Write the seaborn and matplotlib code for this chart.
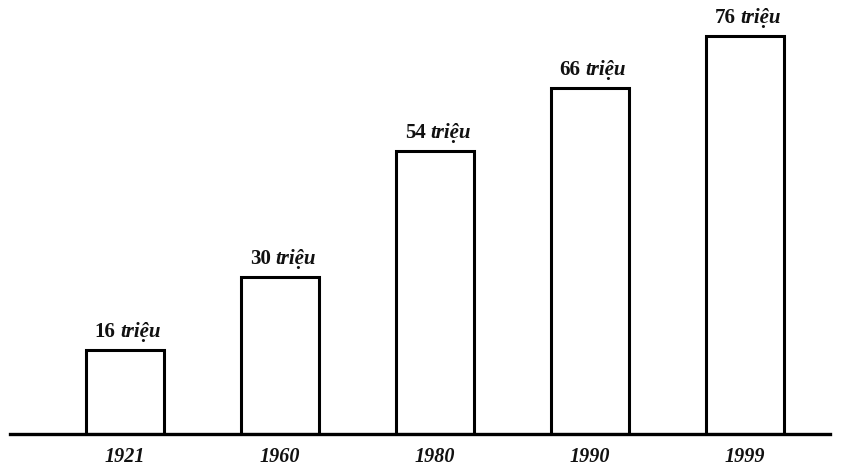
import matplotlib
matplotlib.use("Agg")
import matplotlib.pyplot as plt
import seaborn as sns
import pandas as pd

years = ["1921", "1960", "1980", "1990", "1999"]
population = [16, 30, 54, 66, 76]
unit = "triệu"

sns.set_theme(style="white")
plt.rcParams["font.family"] = ["Liberation Serif", "DejaVu Serif"]

df = pd.DataFrame({"year": years, "pop": population})

fig = plt.figure(figsize=(8.56, 4.70), dpi=100)
ax = fig.add_axes([10 / 856, 36 / 470, 820 / 856, 434 / 470])

sns.barplot(data=df, x="year", y="pop", ax=ax, color="white",
            edgecolor="black", linewidth=2.2, width=0.5, saturation=1)

ax.set_xlim(-0.742, 4.548)
ax.set_ylim(0, 76 * 434 / 398)
for s in ["top", "right", "left"]:
    ax.spines[s].set_visible(False)
ax.spines["bottom"].set_linewidth(2.4)
ax.spines["bottom"].set_color("black")
ax.set_yticks([])
ax.set_xlabel("")
ax.set_ylabel("")
ax.tick_params(axis="x", length=0, pad=9)
for lbl in ax.get_xticklabels():
    lbl.set_fontstyle("italic")
    lbl.set_fontweight("bold")
    lbl.set_fontsize(14.5)
    lbl.set_color("#111111")

fig.canvas.draw()
renderer = fig.canvas.get_renderer()
for i, v in enumerate(population):
    t1 = ax.annotate(f"{v}", xy=(i, v), xytext=(0, 6), textcoords="offset points",
                     ha="left", va="bottom", fontsize=15, fontweight="bold", color="#111111")
    t2 = ax.annotate(unit, xy=(i, v), xytext=(0, 6), textcoords="offset points",
                     ha="left", va="bottom", fontsize=15, fontweight="bold",
                     fontstyle="italic", color="#111111")
    w1 = t1.get_window_extent(renderer).width * 72 / fig.dpi
    w2 = t2.get_window_extent(renderer).width * 72 / fig.dpi
    sp = 3.5
    total = w1 + sp + w2
    t1.set_position((-total / 2 + 2, 6))
    t2.set_position((-total / 2 + 2 + w1 + sp, 6))

fig.savefig("out.png", dpi=100, facecolor="white")
